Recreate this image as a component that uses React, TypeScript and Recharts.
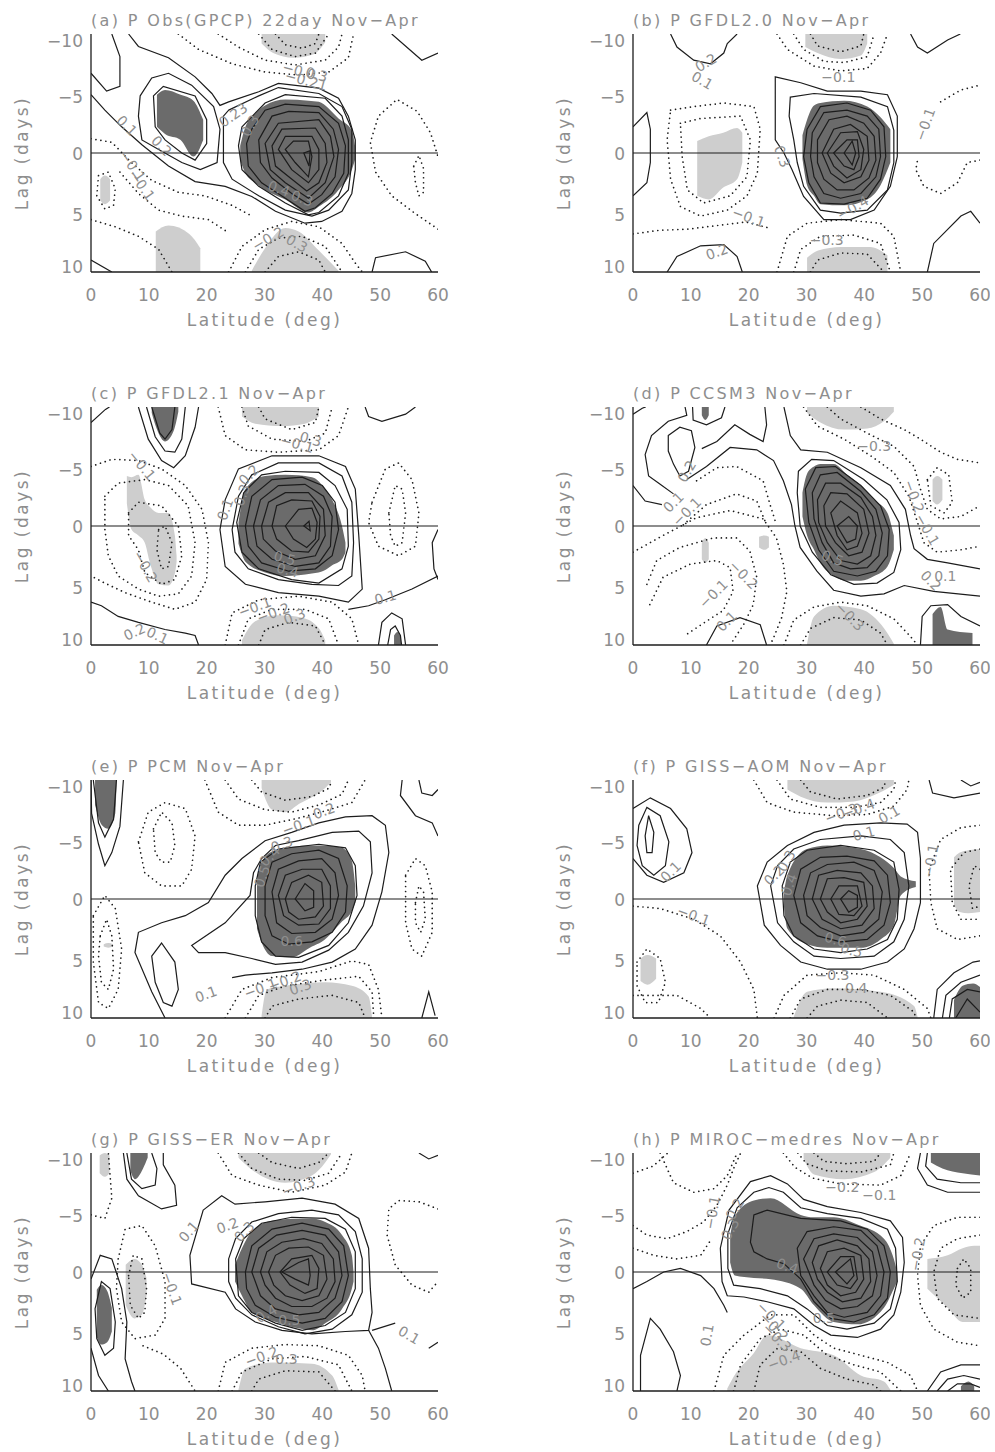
import React from 'react';
import { ComposedChart, Area, Line, XAxis, YAxis, ReferenceLine, ReferenceDot } from 'recharts';

type Pt = [number, number];
type Band = [number, number, number]; // latitude, upper lag, lower lag
type Lbl = [number, number, string, number]; // latitude, lag, text, angle

const latTicks = [0, 10, 20, 30, 40, 50, 60];
const lagTicks = [-10, -5, 0, 5, 10];
const titles = [
  '(a) P Obs(GPCP) 22day Nov−Apr',
  '(b) P GFDL2.0 Nov−Apr',
  '(c) P GFDL2.1 Nov−Apr',
  '(d) P CCSM3 Nov−Apr',
  '(e) P PCM Nov−Apr',
  '(f) P GISS−AOM Nov−Apr',
  '(g) P GISS−ER Nov−Apr',
  '(h) P MIROC−medres Nov−Apr',
];

// ---------- (a) ----------
const aDark: Band[][] = [
  [[11.4, -4.9, -2.2], [12.8, -5.3, -1.6], [15.5, -4.9, -1.1], [17.7, -4.4, 0.3], [19.4, -2.8, -1.1]],
  [[25.8, -0.6, 0.6], [26.7, -2.2, 1.7], [28.4, -3.3, 2.5], [30.1, -4.0, 3.1], [33.6, -4.5, 3.9], [37.6, -4.4, 5.0], [39.4, -4.3, 4.5], [42.8, -2.9, 3.1], [45.1, -1.9, 1.4], [45.7, -0.5, 0.5]],
];
const aLight: Band[][] = [
  [[29.5, -10, -9.2], [31.5, -10, -8.4], [35, -10, -8.0], [38.5, -10, -8.3], [40.5, -10, -9.3]],
  [[1.6, 2.2, 4.0], [2.4, 1.9, 4.3], [3.3, 2.2, 4.0]],
  [[11.2, 6.6, 10], [13.4, 6.1, 10], [17.0, 6.8, 10], [18.9, 8.0, 10]],
  [[27.8, 9.9, 10], [30.1, 8.0, 10], [33.6, 6.3, 10], [35.9, 6.6, 10], [39.4, 8.2, 10], [42.8, 9.9, 10]],
];
const aLoops: Pt[][] = [
  [[8.5, -4.8], [10.5, -6.3], [13.4, -6.7], [17.4, -5.7], [21.2, -3.9], [22.3, -2.0], [21.8, 0.8], [18.9, 1.4], [15.7, 0.8], [11.7, -0.3], [8.8, -1.1], [8.2, -3.1]],
  [[10.8, -4.8], [12.5, -5.6], [18, -4.8], [20, -2.8], [20, -0.8], [18, 0.6], [15.7, 0], [12.8, -1.1], [11.1, -2.2]],
  [[23.8, -3.6], [29, -4.8], [32.4, -5.5], [39.4, -5], [43.4, -3.9], [45.1, -2], [45.1, 0.8], [44.5, 3.1], [41.1, 4.8], [38.2, 5.3], [33.6, 4.8], [29, 3.6], [24.4, 2.2], [22.9, 0.8], [22.9, -3.1]],
  [[26.1, -2.2], [30.1, -4.2], [33.6, -4.9], [40.5, -4.6], [43.4, -3.1], [44.5, -1.1], [44.5, 1.7], [42.8, 3.6], [39.4, 5], [37.6, 5.2], [33.6, 4.2], [29, 2.8], [26.1, 1.4], [25.5, -0.6]],
  [[27.8, -2], [30.1, -3.6], [33.6, -4.1], [39.4, -3.9], [42.8, -2.5], [44, -0.6], [43.7, 1.7], [41.7, 3.4], [38.8, 4.6], [37, 4.9], [33.6, 3.8], [29.5, 2.5], [27.2, 1.1], [26.9, -0.8]],
  [[29, -1.1], [31.3, -3.1], [34.2, -3.5], [39.4, -3.4], [41.9, -2], [42.8, -0.3], [42.2, 2], [39.9, 3.5], [37.6, 4.3], [34.7, 3.4], [31.3, 2.1], [29.3, 0.8]],
  [[30.1, -0.8], [32.4, -2.5], [39.4, -2.8], [41.4, -1.4], [42, 0.3], [40.5, 2.5], [37.6, 3.8], [33.6, 2.5], [31, 1.4]],
  [[31.3, -0.6], [33, -2], [38.8, -2.1], [40.5, -0.8], [40.8, 0.8], [39.4, 2.5], [37.3, 3.2], [34.2, 2], [31.9, 1.1]],
  [[32.4, -0.3], [33.6, -1.4], [38.2, -1.4], [39.4, -0.3], [39.4, 1.4], [37.6, 2.5], [34.7, 1.4]],
  [[33.6, -0.3], [35, -1], [37.6, -1], [38.2, 0.3], [37.6, 2], [35.3, 0.8]],
  [[36.8, 0], [37.9, -0.2], [37.7, 1.1]],
];
const aLines: Pt[][] = [
  [[0, -4.9], [2.4, -3.6], [5.3, -2.2], [8.8, -0.7], [13.4, 1.1], [18, 2.4], [23.2, 2.8], [27.8, 3.65], [31.9, 4.9], [37, 5.9], [39.9, 5.75], [43.4, 4.9], [45.1, 3.4], [45.7, 1.4], [45.7, -1.1], [44.5, -3.1], [42.8, -4.6], [39.4, -5.45], [32.4, -5.85], [29, -5.15], [23.8, -4.3], [22.3, -4.0], [20.9, -5.0], [18, -6.4], [13.4, -8], [8.2, -8.95], [6.5, -10]],
  [[3.6, -10], [5.0, -8.1], [5.0, -5.6], [2.7, -5.2], [0, -6.7]],
  [[52, -10], [57.2, -7.8], [60, -8.4]],
  [[48.6, 10], [49.2, 8.8], [54.4, 8.3], [57.8, 9.1], [58.9, 10]],
  [[0, 9.0], [3.6, 10]],
];
const aDotLoops: Pt[][] = [
  [[55.8, 1.1], [56.7, 0.2], [57.5, 1.3], [57.5, 3.3], [56.7, 3.6], [56.1, 2.5]],
  [[1.3, 1.9], [3.0, 1.6], [4.2, 3.0], [3.9, 4.4], [2.4, 4.7], [1.0, 3.6]],
];
const aDotLines: Pt[][] = [
  [[15.1, -10], [18.6, -8.7], [24.4, -7.5], [30.1, -6.8], [35.9, -6.55], [41.1, -6.8], [44.5, -8], [45.4, -10]],
  [[22, -10], [25.5, -8.9], [30.1, -7.8], [35.3, -7.4], [40.5, -7.8], [42.8, -8.9], [43.4, -10]],
  [[29, -10], [31.3, -8.7], [35.3, -8.1], [38.8, -8.4], [41.1, -10]],
  [[31.9, -10], [33.6, -9.1], [36.5, -8.8], [38.8, -9.2], [39.4, -10]],
  [[60, 6.4], [56.1, 5.1], [52, 3.6], [49.2, 1.6], [48.3, -0.9], [49.7, -3.1], [52.9, -4.5], [56.4, -3.5], [58.7, -1.7], [60, 0.3]],
  [[0, -1.2], [3.6, -0.9], [7, 0.8], [10.5, 2.3], [15.1, 3.3], [19.7, 3.6], [24.4, 4.4], [27.8, 5.3]],
  [[5, 1.6], [8.2, 3.4], [11.7, 4.8], [15.7, 5.3], [20.3, 5.6], [23.8, 6.7]],
  [[23.8, 10], [26.1, 7.85], [30.1, 6.45], [34.7, 5.75], [39.4, 6.2], [43.4, 7.6], [45.7, 9.25], [46.9, 10]],
  [[26.7, 10], [29, 8.1], [32.4, 7.15], [36.5, 7], [40.5, 7.85], [43.4, 10]],
  [[30.1, 10], [32.4, 8.7], [35.9, 8.3], [39.4, 9], [40.5, 10]],
  [[0, 5.6], [4.2, 6.2], [8.2, 7], [11.7, 8.1], [14, 10]],
];
const aLabels: Lbl[] = [
  [6.2, -2.3, '0.1', 45], [12.2, -0.6, '0.2', 45], [7.2, 1.1, '−0.1', 55], [8.8, 2.7, '−0.1', 55],
  [24.6, -3.2, '0.23', -35], [27.5, -2.3, '0.3', -60], [32.5, 3.0, '0.4', 20], [36.5, 3.8, '0.3', 20],
  [30.6, 7.2, '−0.2', -30], [35.6, 7.6, '0.3', 30], [36.0, -6.9, '−0.0', 15], [39.0, -6.6, '0.3', 15], [37.2, -6.1, '−0.21', 15],
];

// ---------- (b) ----------
const bDark: Band[][] = [
  [[29.3, -1.5, 0.5], [30.1, -2.8, 2.7], [31.3, -4.0, 3.6], [32.4, -4.2, 4.3], [36.5, -4.4, 4.4], [40.5, -3.9, 3.9], [42.8, -3.0, 2.7], [44.5, -2.0, 0.8]],
];
const bLight: Band[][] = [
  [[11.1, -1.0, 3.6], [13.1, -1.4, 3.9], [15.6, -1.7, 2.9], [18.0, -2.1, 2.2], [18.9, -1.7, 0.8]],
  [[29.8, -10, -8.9], [31.9, -10, -8.4], [35.9, -10, -7.9], [39.4, -10, -8.2], [40.5, -10, -9.2]],
  [[30.1, 8.8, 10], [32, 8.2, 10], [36, 7.9, 10], [41, 7.9, 10], [44, 8.6, 10]],
];
const bLoops: Pt[][] = [
  [[24.6, -6.4], [29, -5.9], [33.6, -5.2], [39.4, -5.2], [44, -4.9], [45.7, -3.1], [45.7, 0.3], [44.5, 2.8], [41.7, 4.8], [37.6, 5.6], [33, 5.6], [29.5, 3.65], [27.5, 1.4], [26.1, 0], [24.6, -1.1]],
  [[27.2, -4.7], [31.3, -5], [39.4, -4.7], [44, -3.9], [45.1, -1.9], [45.1, 0.8], [44, 3.1], [40.5, 4.8], [35.9, 5.05], [32.4, 4.8], [29.5, 2.8], [28.4, 0.8], [27.8, -1.1], [27, -3.1]],
  [[30.1, -2], [32.4, -3.9], [37, -4.2], [41.1, -3.6], [43.4, -2.2], [43.7, 0.3], [42.8, 2.2], [40.5, 3.8], [36.5, 4.3], [32.4, 4.2], [30.4, 2.5], [29.5, 0.3]],
  [[31, -1.7], [33, -3.4], [37, -3.6], [40.5, -3.1], [42.5, -2], [42.8, 0.3], [42, 2], [39.4, 3.4], [35.9, 3.8], [33, 3.4], [31.3, 2], [30.7, 0.3]],
  [[31.9, -1.1], [33.9, -2.8], [37, -3.1], [39.9, -2.5], [41.7, -1.4], [42, 0.6], [40.8, 2.1], [38.2, 3.1], [35.3, 3.1], [33, 2.2], [31.9, 0.8]],
  [[32.7, 0], [34.7, -2], [37.6, -2.4], [40.5, -1.4], [40.8, 0.6], [39.4, 2], [36.5, 2.5], [34.2, 1.7]],
  [[33.6, 0], [35.9, -1.7], [38.8, -1.8], [39.9, -0.3], [39.4, 1.4], [37, 2.1], [34.7, 1.1]],
  [[34.7, 0], [37, -1.1], [38.8, -1.1], [39.1, 0.3], [38.2, 1.4], [36.5, 1.1]],
  [[36.5, 0], [37.9, -1], [38.5, 0], [37.9, 1]],
];
const bLines: Pt[][] = [
  [[6.5, -10], [7.6, -8.9], [10.5, -7.8], [13.4, -7.5], [15.7, -8.4], [16.3, -9.2], [18, -10]],
  [[48, -10], [49.2, -8.9], [50.9, -8.4], [54.4, -9.5], [56.6, -10]],
  [[0, -2.2], [2.4, -3.4], [3, -2], [3, 0.8], [2.4, 2.5], [0, 3.6]],
  [[50.9, 10], [52, 7.6], [56.7, 5.3], [58.4, 4.9], [60, 5.9]],
  [[5.9, 10], [7.6, 8.7], [11.7, 7.8], [15.7, 7.7], [18, 8.7], [18.9, 10]],
];
const bDotLoops: Pt[][] = [
  [[6.5, -3.6], [10.5, -3.9], [15.7, -4.2], [20.9, -3.9], [22, -2], [21.5, 1.7], [19.7, 3.6], [16.3, 4.8], [11.7, 5.3], [8.2, 4.5], [6.5, 2.2], [5.9, -1.1]],
  [[8.2, -2.5], [11.7, -2.9], [18.6, -3.1], [20.3, -1.1], [19.7, 2], [16.8, 3.6], [12.2, 4.2], [9.4, 3.1], [8.5, 0.3]],
];
const bDotLines: Pt[][] = [
  [[24.9, -10], [26.7, -8.7], [31.3, -7.3], [35.9, -6.9], [40.5, -7.1], [42.8, -8.4], [44, -10]],
  [[27.8, -10], [29.5, -8.7], [33, -7.7], [36.5, -7.6], [40.5, -8.1], [41.7, -10]],
  [[30.7, -10], [31.9, -9], [35.9, -8.5], [39.4, -9], [39.9, -10]],
  [[24.9, 10], [26.7, 7], [30.1, 5.9], [35.9, 5.6], [42.8, 5.9], [45.1, 7], [46.3, 10]],
  [[27.8, 10], [29, 8.1], [32.4, 7], [38.2, 6.9], [42.8, 7.6], [44.5, 10]],
  [[30.7, 10], [31.9, 9], [35.9, 8.4], [40.5, 8.5], [43.4, 10]],
  [[60, 0.6], [57.8, 0.8], [56.1, 2.5], [53.2, 3.4], [50.3, 2.8], [48.9, 1.4], [49.2, 0.6]],
  [[53.2, -4.3], [56.7, -5.3], [60, -5.7]],
  [[0, 6.8], [4.5, 6.5], [9.5, 6.4], [14.5, 6.1], [19.5, 5.8], [23.5, 6.3]],
];
const bLabels: Lbl[] = [
  [12.6, -7.6, '0.2', -30], [12, -6.1, '0.1', 30], [35.5, -6.4, '−0.1', 0], [50.5, -2.4, '−0.1', -70],
  [20, 5.4, '−0.1', 20], [14.5, 8.3, '0.2', -20], [33.5, 7.3, '−0.3', 0], [38, 4.6, '−0.4', -30], [25.8, 0.3, '0.3', 70],
];

// ---------- (c) ----------
const cDark: Band[][] = [
  [[25.5, -0.3, 1.5], [26.7, -3.1, 3.0], [30.1, -4.2, 3.9], [33.6, -4.3, 4.2], [38.2, -4.1, 4.0], [40.5, -3.1, 3.7], [41.7, -2.2, 3.3], [43.4, 0, 2.8], [44, 1.4, 2.2]],
  [[10.5, -10, -9.5], [11.5, -10, -8.0], [12.8, -10, -7.1], [14.3, -10, -8.0], [15.1, -10, -9.6]],
  [[52.4, 9.2, 10], [53.0, 8.9, 10], [53.6, 9.4, 10]],
];
const cLight: Band[][] = [
  [[6.2, -4.2, -1.9], [7.0, -4.1, 0.3], [8.2, -4.3, 0.8], [9.3, -2.2, 1.4], [10.2, -1.6, 3.1], [11.7, -1.1, 4.9], [13.4, -1.1, 5.0], [14.5, 0.8, 4.0], [14.8, 2.5, 3.0]],
  [[26.1, -10, -9.2], [28.4, -10, -8.6], [33, -10, -8.4], [37, -10, -8.6], [39.4, -10, -9.2]],
  [[26.1, 9.6, 10], [28.4, 8.0, 10], [32.4, 7.5, 10], [36.5, 7.7, 10], [39.4, 8.6, 10], [40.5, 9.6, 10]],
];
const cLoops: Pt[][] = [
  [[22.3, 0.3], [23.2, -2.2], [25.5, -4.8], [31.3, -5.9], [39.4, -5.9], [44, -5], [45.7, -3.1], [46.3, 0.8], [46.9, 5.3], [44.5, 6.4], [39.4, 5.9], [32.4, 5.6], [26.7, 4.9], [23.2, 3.4]],
  [[24.4, 0.3], [25.5, -2.5], [27.8, -4.3], [32.4, -5.3], [39.4, -5.3], [43.4, -4.2], [45.1, -2], [45.4, 1.4], [45.1, 4.2], [42.8, 5], [38.2, 4.9], [32.4, 4.5], [27.2, 3.6], [24.9, 2.2]],
  [[25.2, -0.3], [26.4, -2.8], [29.5, -4.3], [33.6, -4.6], [39.4, -4.5], [42.2, -3.4], [44.3, -1.4], [44.5, 1.7], [43.4, 3.6], [39.4, 4.8], [34.7, 4.5], [29, 3.6], [26.1, 2.2]],
  [[26.7, 0], [27.8, -2.5], [31.3, -3.9], [36.5, -4.1], [40, -3.4], [42.2, -2], [42.8, 0.3], [41.7, 2.5], [38.8, 3.6], [34.2, 3.8], [29.5, 3.1], [27.2, 1.7]],
  [[28.1, 0], [29.3, -2.2], [32.4, -3.4], [37, -3.5], [40.2, -2.5], [41.7, -0.8], [41.4, 1.7], [39.4, 3.1], [35.3, 3.4], [31.3, 2.8], [28.7, 1.7]],
  [[29.5, 0], [30.7, -2], [33.6, -2.8], [37.6, -2.8], [40.2, -1.4], [40.5, 0.8], [38.8, 2.5], [35.3, 2.8], [31.9, 2.1], [29.8, 1.1]],
  [[31.3, 0], [32.1, -1.7], [34.7, -2.2], [38.2, -2.1], [39.6, -0.8], [39.4, 1.1], [37.6, 2.2], [34.7, 2.1], [32.1, 1.1]],
  [[33.6, 0], [35.9, -1.4], [38.2, -1.5], [39.1, -0.3], [38.8, 1.1], [37.3, 1.8], [35, 1.1]],
  [[36.8, 0], [37.7, -0.4], [37.9, 0.4]],
];
const cLines: Pt[][] = [
  [[44.5, 7], [48, 6.7], [50.9, 6.2], [55.5, 5.3], [60, 4.2]],
  [[8.2, -10], [9.9, -7.3], [12.2, -5.5], [14.3, -4.9], [16.3, -5.9], [18, -8.3], [18.6, -10]],
  [[9.6, -10], [11.1, -7.5], [12.8, -6.3], [14.5, -6.2], [15.7, -7.3], [16.3, -10]],
  [[10.5, -10], [11.9, -7.8], [12.8, -7.3], [14, -8.1], [14.5, -10]],
  [[47.4, -10], [48, -9.2], [50.3, -8.8], [54.4, -9.4], [56.1, -10]],
  [[60, 0.3], [59, 1.4], [59.3, 3.6], [60, 4.5]],
  [[49.7, 10], [50.3, 8.1], [52, 7.3], [53.8, 7.8], [54.4, 10]],
  [[51.3, 10], [51.8, 8.7], [52.6, 8.4], [53.5, 9.2], [53.7, 10]],
  [[0, 6.4], [1.8, 6.7], [4.7, 7.6], [8.2, 8.1], [12.8, 8.7], [16.3, 9], [18, 9.2], [18.6, 10]],
  [[0, -8.7], [2.5, -9.8], [3.2, -10]],
];
const cDotLoops: Pt[][] = [
  [[2.4, -2.5], [4.7, -3.6], [9.3, -3.9], [13.4, -3.4], [16.8, -1.7], [18, 1.4], [17.4, 4.2], [15.1, 5.7], [11.7, 5.9], [8.2, 5.3], [4.7, 4.2], [3, 2.5], [2.4, 0.3]],
  [[6.5, -1.1], [8.2, -2], [12.2, -1.7], [15.1, 0], [15.7, 2.5], [14.5, 4.5], [12.2, 4.9], [9.3, 3.9], [8.2, 2], [6.5, 0.8]],
  [[11.7, 0.3], [12.8, 0], [14, 1.4], [13.4, 3.4], [12.2, 3.6], [11.4, 2]],
  [[48.6, -2], [50.9, -4.8], [53.2, -5.3], [55.5, -3.9], [56.7, -1.1], [56.1, 1.7], [53.2, 2.5], [49.7, 1.7], [48, -0.3]],
  [[51.5, -1.1], [52.6, -3.4], [53.8, -3.1], [54.4, -1.1], [53.8, 1.4], [52.6, 1.7], [51.8, 0.8]],
];
const cDotLines: Pt[][] = [
  [[0, -5], [3.6, -5.6], [8.2, -5.5], [12.2, -4.8], [16.3, -3.4], [19.2, -1.4], [20.3, 1.4], [20, 4.5], [18, 6.4], [14.5, 7], [10.5, 6.4], [5.9, 5.6], [2.4, 4.8], [0, 4.2]],
  [[22, -10], [23.2, -7.6], [26.7, -6.4], [32.4, -6.2], [39.4, -6.4], [42.8, -7.6], [44.5, -10]],
  [[26.1, -10], [27.2, -8.4], [31.3, -7.3], [37, -7.1], [40.5, -7.8], [41.7, -10]],
  [[29, -10], [30.1, -9], [34.7, -8.1], [38.8, -8.7], [39.4, -10]],
  [[23.2, 10], [24.4, 7.3], [29, 6.2], [35.9, 5.9], [41.7, 6.4], [45.1, 7.8], [46.3, 10]],
  [[25.5, 10], [27.2, 7.8], [31.3, 7], [37, 7], [41.1, 7.8], [42.8, 10]],
  [[29, 10], [30.1, 8.7], [34.2, 8.1], [38.8, 8.4], [40.5, 10]],
];
const cLabels: Lbl[] = [
  [8.8, -5.1, '−0.1', 50], [9.4, 3.4, '−0.2', 60], [23.2, -1.4, '0.1', -70], [27.3, -4.3, '0.2', -45], [26.1, -2.6, '0.3', -70],
  [33.5, 2.7, '0.5', 15], [34, 3.7, '0.4', 15], [50.9, 6.0, '0.1', -15], [28.3, 6.8, '−0.1', -20], [31.5, 7.3, '−0.2', -20],
  [35.2, 7.6, '0.3', -20], [35.6, -6.9, '−0.1', 15], [38, -7.3, '0.3', 15], [7.5, 8.9, '0.2', -25], [11.5, 9.2, '0.1', 25],
];

// ---------- (d) ----------
const dDark: Band[][] = [
  [[29.3, -2.8, -0.8], [30.1, -4.4, 0.8], [31.3, -5.0, 2.0], [32.4, -5.2, 3.1], [34.7, -5.2, 4.2], [37, -4.3, 4.6], [39.4, -3.4, 4.6], [41.7, -2.2, 4.2], [44, -1.1, 3.4], [45.1, 0.8, 2.0]],
  [[11.9, -10, -9.3], [12.5, -10, -8.9], [13.1, -10, -9.3]],
  [[51.8, 7.4, 10], [53.2, 6.8, 10], [54.4, 8.7, 10], [58.7, 9.0, 10]],
];
const dLight: Band[][] = [
  [[30.1, -10, -9.5], [32.4, -10, -8.7], [36.5, -10, -8.1], [40.5, -10, -8.2], [43.4, -10, -8.8], [45.1, -10, -9.6]],
  [[51.8, -3.9, -2.1], [52.6, -4.2, -1.8], [53.5, -3.9, -2.2]],
  [[11.9, 1.4, 2.8], [12.5, 1.0, 3.1], [13.1, 1.4, 2.8]],
  [[21.8, 0.9, 1.8], [22.7, 0.8, 2.0], [23.5, 0.9, 1.8]],
  [[30.1, 9.9, 10], [31.3, 7.6, 10], [34.7, 6.7, 10], [39.4, 7.0, 10], [43.4, 8.6, 10], [45.1, 9.9, 10]],
];
const dLoops: Pt[][] = [
  [[28.6, -4.6], [30.9, -5.6], [34.7, -5.5], [39.9, -3.9], [43.9, -2.2], [46, -0.3], [46.3, 2], [45.1, 3.9], [42.2, 4.8], [38.2, 4.9], [34.2, 4.1], [31, 2.2], [28.9, 0], [28.4, -2.8]],
  [[29.8, -3.1], [31.6, -4.9], [35, -5], [39.4, -3.4], [42.8, -1.7], [44.3, 0.3], [44, 2.5], [42, 3.8], [38.8, 4.2], [34.7, 3.8], [32.1, 2], [30.4, -0.3]],
  [[31, -2.8], [32.4, -4.3], [35.3, -4.5], [39.4, -2.9], [42, -1.4], [43.1, 0.6], [42.5, 2.5], [40.5, 3.5], [37.6, 3.6], [34.7, 3.1], [32.7, 1.4], [31.3, -0.6]],
  [[31.9, -2.2], [33.3, -3.6], [35.9, -3.6], [39.4, -2.4], [41.4, -0.8], [42, 0.8], [41.1, 2.5], [38.8, 3.2], [35.9, 2.9], [33.6, 1.4], [32.1, -0.3]],
  [[33, -1.7], [34.2, -2.8], [37, -2.7], [39.9, -1.4], [40.8, 0.6], [39.6, 2.2], [37.3, 2.5], [35, 1.4], [33.3, 0]],
  [[34.2, -1.1], [35.9, -2.1], [38.8, -1.1], [39.6, 0.6], [38.8, 1.7], [37, 2], [35.3, 0.8]],
  [[35.3, 0], [37.3, -0.8], [38.8, 0], [38.5, 1.1], [37, 1.4]],
  [[6.1, -7.6], [8.1, -8.3], [10.1, -8.0], [10.7, -6.6], [9.6, -4.6], [8.1, -4.2], [7.0, -5.2], [6.1, -6.3]],
];
const dLines: Pt[][] = [
  [[0, -3.4], [2.1, -2.1], [5.0, -1.8]],
  [[7.0, -2.7], [4.7, -3.5], [2.7, -4.2], [2.1, -6.0], [3.2, -7.6], [6.1, -8.8], [9.3, -9.3], [9.0, -10]],
  [[10.3, -10], [10.4, -8.9], [12.7, -8.5], [15.3, -9.1], [15.9, -10]],
  [[11.9, -6.5], [14.5, -7.1], [17.6, -8.5], [20.2, -7.7], [22.5, -7.1], [23.1, -8.5], [22.8, -10]],
  [[9.3, -3.9], [12.7, -5.0], [16.8, -6.6], [21.4, -6.4], [24.3, -5.5], [26, -3.8], [27.4, -1.8], [28, 0], [28.9, 1.8], [31.8, 3.8], [34.7, 5.4], [39.4, 5.9], [43.4, 5.7], [46.9, 5], [52, 5.5], [60, 5.9]],
  [[26.1, -10], [27.2, -7.6], [29, -6.4], [33.6, -6.2], [39.4, -4.9], [44.5, -3.4], [47.1, -1.4], [48, 0.8], [48.6, 1.9], [50.9, 2.8], [54.4, 3.1], [60, 3.6]],
  [[49.7, 10], [50, 7.6], [51.5, 6.7], [54.4, 6.6], [56.7, 7.6], [60, 8.4]],
  [[12.7, 10], [14.5, 8.4], [18.5, 7.7], [22, 8.3], [23.1, 10]],
  [[0, -9.4], [1.6, -9.9], [2.2, -10]],
];
const dDotLoops: Pt[][] = [
  [[50.9, -3.9], [52.6, -4.9], [54.6, -4.3], [55.2, -2], [53.8, -1.1], [51.5, -1.7]],
];
const dDotLines: Pt[][] = [
  [[29.5, -10], [31.9, -8.4], [36.5, -7.3], [41.1, -5.9], [45.1, -4.5], [47.7, -2.5], [49.2, -0.3], [50.3, 1.4], [52.6, 2.2], [56.7, 2], [60, 1.7]],
  [[33.6, -10], [35.9, -9], [40.5, -7.8], [45.1, -6.7], [48.6, -5], [49.7, -3.1], [50.9, -1.4], [53.2, -0.6], [56.7, -0.8], [60, -1.7]],
  [[39.4, -10], [42.8, -9], [46.9, -8.1], [49.7, -7.3], [53.2, -6.2], [56.1, -5.6], [60, -5.3]],
  [[26.1, 10], [27.8, 7.9], [31.3, 6.8], [35.9, 6.4], [40.5, 6.7], [45.1, 7.8], [48, 9.3], [49.2, 10]],
  [[29, 10], [30.7, 8.6], [34.7, 7.7], [39.4, 7.9], [42.8, 9], [44, 10]],
  [[0, 2.2], [5.2, 0.8], [11, -0.7], [16.8, -1.3], [22.5, -0.6], [24.8, 1.0], [26, 3.2], [26.6, 5.5], [25.7, 7.7], [24.3, 9.4], [23.7, 10]],
  [[2.4, 4.9], [4.1, 2.9], [8.1, 1.8], [13.9, 1.0], [17.9, 1.0], [20.2, 2.1], [21.4, 4.3], [20.8, 6.6], [19.1, 8.3], [16.8, 10]],
  [[2.9, 6.6], [5.2, 4.3], [9.9, 3.2], [14.5, 2.9], [16.8, 3.5], [17.3, 5.5], [15.6, 7.1], [12.7, 8.0], [9.3, 9.1]],
  [[11, -3.8], [14.5, -4.9], [17.9, -5.0], [22.5, -3.8], [23.7, -1.8], [24.8, -0.1]],
  [[8.7, -0.1], [12.7, -1.8], [17.9, -2.7], [21.4, -2.1], [23.1, -0.1]],
];
const dLabels: Lbl[] = [
  [9.3, -4.6, '0.2', -60], [7, -2.0, '0.1', -45], [9.3, -1.2, '−0.1', -45], [19.1, 4.1, '−0.2', 45], [13.9, 5.7, '−0.1', -45],
  [16.2, 8.0, '0.1', -45], [41.7, -6.7, '−0.3', 0], [48.6, -2.5, '−0.2', 70], [50.9, 0.3, '−0.1', 60], [51.5, 4.6, '0.2', 45],
  [54, 4.2, '0.1', 0], [37.5, 7.6, '−0.3', 45], [34.5, 2.7, '0.5', 20],
];

// ---------- (e) ----------
const eDark: Band[][] = [
  [[28.7, -1.5, 2.5], [29.3, -2.9, 3.4], [31.3, -4.0, 4.8], [34.7, -4.4, 4.9], [38.2, -4.5, 4.0], [39.9, -4.5, 3.6], [43.4, -4.3, 1.9], [45.1, -3.2, 1.0], [45.7, -1.1, 0.3]],
  [[0.7, -10, -7.9], [1.9, -10, -6.2], [3.0, -10, -5.9], [4.2, -10, -7.2], [4.4, -10, -9.5]],
];
const eLight: Band[][] = [
  [[29.5, -10, -9.3], [31.3, -10, -7.5], [33.6, -10, -7.3], [36, -10, -8.0], [39.4, -10, -8.9], [41.5, -10, -9.8]],
  [[29.5, 9.8, 10], [30.4, 7.6, 10], [33.6, 7.3, 10], [40.5, 7.0, 10], [45.1, 7.3, 10], [48.0, 8.2, 10], [48.6, 9.9, 10]],
  [[2.2, 3.8, 4.0], [3.0, 3.7, 4.1], [3.8, 3.8, 4.0]],
];
const eLoops: Pt[][] = [
  [[10.5, 4.8], [12.2, 3.7], [14.5, 5.3], [15.1, 7.6], [14, 9], [12.5, 8.7], [11.1, 7]],
  [[17.4, 3.9], [23.2, 2], [27.5, -0.3], [28.1, -2.2], [29.5, -3.4], [31.9, -4.5], [35.9, -4.9], [41.7, -5.6], [46.3, -5.7], [48.3, -4.8], [48.6, -2.2], [47.1, 0.6], [44.5, 2.8], [41.1, 4.3], [36.5, 5.3], [31.9, 5.5], [27.8, 5], [23.2, 4.5], [18.6, 4.5]],
  [[28.4, -1.1], [29.3, -3.1], [32.4, -4.2], [39.4, -4.6], [44, -4.3], [45.7, -2.8], [46, -0.3], [44.5, 2], [41.1, 3.9], [35.9, 4.9], [31.9, 4.8], [29.5, 3.6], [28.4, 1.4]],
  [[30.1, -1.1], [31.3, -3.1], [34.7, -3.8], [39.4, -4.1], [42.8, -3.4], [44.3, -1.1], [44, 1.1], [41.7, 2.8], [38.2, 3.6], [34.2, 3.8], [31.3, 3.1], [30.1, 1.4]],
  [[31.3, -0.6], [32.4, -2.5], [35.9, -3.2], [39.9, -3.4], [42.2, -2.2], [42.8, -0.3], [41.7, 1.7], [38.8, 2.8], [34.7, 2.9], [32.1, 2]],
  [[32.4, -0.3], [33.6, -2], [36.5, -2.5], [39.9, -2.5], [41.4, -1.1], [41.4, 0.8], [39.4, 2.1], [35.9, 2.2], [33.3, 1.4]],
  [[33.6, 0], [34.7, -1.4], [37.6, -2], [39.9, -1.4], [40.2, 0.6], [38.8, 1.5], [35.9, 1.7], [34.2, 1.1]],
  [[35.3, 0], [37, -1.3], [38.5, -0.7], [38.5, 0.7], [37, 1]],
];
const eLines: Pt[][] = [
  [[12.8, 10], [10.5, 7.8], [7.6, 4.5], [8.2, 2.8], [12.2, 2], [16.3, 1.4], [20.3, 0.3], [23.2, -2], [26.1, -3.4], [30.1, -4.9], [34.7, -5.6], [39.4, -6.4], [44, -6.9], [48.6, -7], [50.9, -6.2], [51.5, -3.9], [50.3, -0.6], [48.6, 2.2], [45.7, 4.2], [41.7, 5.3], [36.5, 5.9], [31.3, 6.2], [26.7, 6.4], [24.4, 6.6]],
  [[0, -10], [0.1, -7.2], [1.3, -4.6], [2.4, -2.8], [3.6, -3.9], [5, -6.1], [5.6, -10]],
  [[0.4, -10], [1.3, -6.4], [2.4, -5.2], [3.9, -6.7], [4.4, -10]],
  [[53.8, -10], [53.5, -8.7], [56.1, -7], [59, -6.4], [60, -5.3]],
  [[56.7, -10], [57.2, -8.9], [59, -8.7], [60, -9.2]],
  [[57.2, 10], [58.4, 7.8], [59.5, 9.8]],
];
const eDotLoops: Pt[][] = [
  [[8.2, -4.8], [9.9, -7.3], [12.8, -8.1], [16.3, -7.6], [18, -5.3], [17.4, -2.5], [15.7, -1.1], [12.2, -1.1], [9.3, -2.2]],
  [[10.8, -5.9], [12.2, -7.3], [14, -6.4], [14.5, -4.5], [13.7, -3.1], [12.2, -3.1], [11.1, -3.9]],
  [[54.4, -2], [56.1, -3.4], [57.8, -2.8], [59, -0.6], [59, 2.8], [57.2, 4.8], [55.5, 4.2], [54.4, 2]],
  [[56.1, 0.3], [56.7, -1.1], [57.5, -0.6], [57.8, 1.7], [57, 2.8], [56.1, 2]],
  [[0.4, 1.4], [2.4, -0.3], [4.2, 0.8], [5.3, 4.2], [4.7, 7.6], [3, 9.2], [1.3, 8.7], [0.4, 5.3]],
  [[1.6, 3.1], [2.7, 1.7], [3.6, 3.1], [3.9, 5.9], [3, 7.6], [1.8, 7], [1.3, 4.8]],
];
const eDotLines: Pt[][] = [
  [[19.7, -10], [22, -7.3], [25.5, -6.2], [30.1, -6.2], [35.9, -6.8], [40.5, -7.4], [45.1, -8.1], [47.4, -10]],
  [[23.2, -10], [25.5, -8.4], [30.1, -7.5], [34.7, -7.3], [39.4, -7.9], [43.4, -8.8], [44.5, -10]],
  [[27.8, -10], [29.5, -9], [33.6, -8.3], [38.2, -8.6], [41.1, -9.3], [41.7, -10]],
  [[23.2, 10], [26.1, 7.6], [31.3, 6.6], [39.4, 6.1], [45.1, 5.2], [48, 5.5], [49.7, 7.6], [50.3, 10]],
  [[26.7, 10], [29, 8.1], [33.6, 7.3], [40.5, 6.8], [46.3, 6.5], [48.6, 7.8], [48.9, 10]],
  [[30.1, 10], [31.3, 9], [35.9, 8.4], [41.7, 8.1], [46.3, 8.7], [47.4, 10]],
];
const eLabels: Lbl[] = [
  [33, -4.6, '0.3', -20], [30.9, -3.6, '0.4', -45], [29.6, -1.9, '0.5', -70], [34.7, 3.5, '0.6', 0], [19.9, 8.0, '0.1', -20],
  [29.3, 7.5, '−0.1', -20], [33.5, 6.9, '−0.2', -20], [36.2, 7.4, '0.3', -20], [35.9, -6.2, '−0.1', -20], [40.3, -7.4, '0.2', -20],
];

// ---------- (f) ----------
const fDark: Band[][] = [
  [[26.1, -0.6, 0.6], [26.7, -2.0, 2.5], [30.1, -4.2, 3.8], [33.6, -4.5, 4.1], [39.4, -4.2, 4.1], [42.8, -3.5, 3.4], [45.1, -2.6, 2.2], [46.3, -1.9, -0.3], [48.9, -1.5, -1.0]],
  [[55.5, 8.5, 10], [57, 7.3, 10], [58.8, 7.1, 10], [60, 7.4, 10]],
];
const fLight: Band[][] = [
  [[26.7, -10, -9.2], [29, -10, -8.6], [33.6, -10, -8.1], [38.2, -10, -8.2], [42.5, -10, -8.9], [45.1, -10, -9.6]],
  [[27.8, 9.9, 10], [30.1, 7.8, 10], [34.7, 7.5, 10], [42.8, 7.8, 10], [48.6, 9.0, 10], [49.2, 9.9, 10]],
  [[55.5, -3.5, 0.5], [56.5, -3.9, 1.1], [58, -4.1, 1.2], [60, -4.2, 1.1]],
  [[1.3, 5.0, 6.9], [2.5, 4.7, 7.2], [4.0, 5.0, 6.7]],
];
const fLoops: Pt[][] = [
  [[21.5, -1.1], [23.2, -3.1], [26.7, -4.5], [31.3, -5.6], [36.5, -6.2], [42.8, -6.4], [47.4, -6.3], [49.2, -5.6], [49.7, -3.4], [49.7, 0.3], [48.6, 2.5], [46.9, 4.2], [44, 5.3], [39.4, 5.9], [33.6, 5.9], [29, 5.3], [25.5, 3.9], [22.7, 2.2]],
  [[23.8, -1.1], [25, -2.8], [27.8, -4.2], [32.4, -5], [39.4, -5.3], [44.5, -5], [46.9, -3.9], [47.7, -1.1], [46.9, 1.7], [45.1, 3.6], [41.7, 4.8], [35.9, 5], [31.3, 4.8], [27.8, 3.6], [25, 2.0]],
  [[25.8, -1.1], [27.2, -3.1], [30.1, -4.1], [35.9, -4.5], [41.7, -4.1], [45.1, -3.1], [46, -0.8], [45.7, 1.7], [44, 3.4], [40.5, 4.2], [35.9, 4.5], [31.3, 4.2], [27.8, 3.1], [26.1, 1.4]],
  [[27.8, -0.3], [29, -2.5], [32.4, -3.5], [37, -3.6], [41.7, -3.2], [44, -2], [44.5, 0.3], [43.4, 2.2], [40.5, 3.4], [35.9, 3.6], [31.9, 3.1], [29, 2]],
  [[29.5, -0.3], [30.7, -2.2], [33.6, -2.9], [38.2, -3.1], [41.7, -2.4], [43.1, -0.6], [42.5, 1.7], [39.9, 2.8], [35.9, 3.1], [32.4, 2.4], [30.1, 1.4]],
  [[31, 0], [32.1, -2], [35.3, -2.4], [39.4, -2.2], [41.4, -1.1], [41.7, 0.8], [39.6, 2.2], [35.9, 2.5], [32.7, 1.7]],
  [[32.4, 0], [33.6, -1.7], [36.5, -1.8], [39.9, -1.4], [40.5, 0.6], [38.8, 1.7], [35.9, 2], [33.6, 1.1]],
  [[34.2, 0], [35.6, -1.1], [38.8, -1.1], [39.6, 0.6], [38.2, 1.4], [35.6, 1.3]],
  [[35.9, 0], [37.3, -0.7], [38.8, -0.3], [38.8, 0.7], [37.3, 1.1]],
  [[1, -6.2], [2.4, -7.7], [4.7, -7], [6.2, -4.8], [5.6, -2.8], [3.6, -2], [1.6, -2.8], [0.7, -4.5]],
  [[2.1, -5.3], [2.7, -7], [3.6, -5.6], [3.3, -3.9], [2.4, -3.9]],
];
const fLines: Pt[][] = [
  [[0, -7.6], [3, -8.5], [6.5, -7.6], [9.3, -5.9], [10.2, -3.9], [8.8, -2.2], [5.3, -1.4], [2.4, -2], [0, -3.4]],
  [[51.2, -10], [51.8, -8.9], [55.5, -8.5], [60, -8.9]],
  [[56.7, -10], [58.4, -9.5], [60, -9.8]],
  [[52, 10], [52.6, 7.6], [55.5, 6.2], [58.8, 5.3], [60, 5.2]],
  [[53.5, 10], [54.1, 8.1], [56.7, 7], [60, 6.4]],
  [[54.7, 10], [55.2, 8.4], [57.8, 7.6], [60, 7.8]],
  [[55.8, 10], [57.8, 8.4], [60, 9.5]],
];
const fDotLoops: Pt[][] = [
  [[0.7, 5.3], [2.4, 4.2], [4.7, 5], [5.6, 7], [4.4, 8.7], [2.1, 8.7], [0.7, 7.3]],
];
const fDotLines: Pt[][] = [
  [[20.9, -10], [23.2, -8.1], [27.8, -7.3], [34.7, -7], [40.5, -7.1], [45.1, -7.8], [47.4, -9.2], [47.7, -10]],
  [[24.9, -10], [27.2, -8.4], [32.4, -7.7], [38.2, -7.7], [42.8, -8.1], [45.1, -9.2], [45.4, -10]],
  [[29, -10], [30.7, -9], [35.3, -8.4], [40.5, -8.7], [43.4, -9.4], [43.7, -10]],
  [[24.4, 10], [26.1, 8.1], [30.1, 6.4], [35.9, 6.2], [41.7, 6.4], [46.9, 7.6], [50.9, 9.2], [51.5, 10]],
  [[27.2, 10], [29, 8.4], [33.6, 7.6], [39.4, 7.6], [44.5, 8.1], [48.6, 9.5], [48.9, 10]],
  [[30.1, 10], [31.9, 9], [35.9, 8.5], [40.5, 8.7], [44, 10]],
  [[0, 0.6], [4.7, 0.8], [10.5, 1.7], [15.1, 3.1], [18.6, 5.3], [20.9, 7.6], [21.5, 10]],
  [[0, 8.1], [7.6, 8.1], [11.7, 9.2], [13.4, 10]],
  [[60, -6.2], [56.7, -6], [53.2, -5], [51.2, -2.5], [51.5, 0.3], [52.6, 2.5], [56.1, 3.4], [60, 3.1]],
  [[60, -4.2], [57.2, -3.9], [54.9, -2.5], [55.2, 0.3], [56.7, 1.7], [60, 1.7]],
  [[60, -2.5], [59, -2.8], [58.1, -1.1], [58.7, 0.8], [60, 0.6]],
];
const fLabels: Lbl[] = [
  [6.5, -2.3, '0.1', -45], [10.5, 1.4, '−0.1', 20], [24.4, -2.0, '0.2', -45], [26.5, -3.2, '0.3', -60], [27, -1.2, '0.4', -70],
  [35, 3.4, '0.6', 15], [37.8, 4.3, '0.5', 15], [39.9, -5.5, '0.1', -15], [39, -7.6, '−0.4', -20], [36, -7.2, '−0.3', -20],
  [44.3, -7.1, '0.1', -30], [51.5, -3.2, '−0.1', -80], [34.5, 6.4, '−0.3', 0], [38.6, 7.5, '0.4', 0],
];

// ---------- (g) ----------
const gDark: Band[][] = [
  [[24.9, -0.6, 0.8], [26.1, -2.0, 2.0], [27.8, -3.4, 3.4], [31.3, -4.3, 4.1], [36.5, -4.5, 4.8], [38.2, -4.5, 4.9], [40.5, -4.2, 4.3], [43.4, -3.1, 3.1], [45.1, -1.4, 1.4], [45.4, 0, 0.8]],
  [[6.8, -10, -8.5], [7.6, -10, -7.8], [9.0, -10, -8.7], [9.8, -10, -9.6]],
  [[1.0, 1.5, 5.5], [1.8, 1.1, 6.1], [2.8, 1.6, 5.9], [3.6, 3.0, 5.0]],
];
const gLight: Band[][] = [
  [[25.5, -10, -9.6], [27.8, -10, -8.6], [33.6, -10, -7.5], [38.2, -10, -8.1], [40.5, -10, -9.2], [41.5, -10, -9.9]],
  [[1.5, -9.8, -8.3], [2.4, -10, -8.0], [3.2, -9.8, -8.3]],
  [[6.0, -0.6, 2.8], [7.5, -1.1, 3.9], [8.8, -0.6, 3.6], [9.6, 0.5, 2.0]],
  [[25.5, 9.9, 10], [26.7, 8.1, 10], [31.3, 7.6, 10], [38.2, 7.7, 10], [41.7, 8.7, 10], [42.8, 9.9, 10]],
];
const gLoops: Pt[][] = [
  [[19.4, -5.2], [22.6, -6.4], [24.9, -5.7], [30.1, -5.9], [36.5, -6.2], [42.2, -5.7], [46.3, -4.5], [48, -2], [48.3, 1.4], [48.6, 3.4], [48, 4.9], [44, 5], [38.2, 5.2], [33, 4.9], [28.4, 4.2], [25, 3.1], [23.2, 1.7], [17.4, 1], [17.1, -1.4]],
  [[23.8, -1.1], [25, -2.8], [27.8, -4.2], [32.4, -4.9], [38.2, -5.2], [42.8, -4.8], [45.7, -3.4], [46.9, -1.1], [46.9, 1.7], [45.1, 3.6], [41.7, 4.8], [37, 5.2], [32.4, 4.6], [27.8, 3.6], [25, 2.2], [23.8, 0.8]],
  [[25, -1.1], [26.4, -2.8], [29.5, -4.1], [34.7, -4.6], [40.5, -4.5], [44, -3.6], [45.7, -1.7], [45.7, 1.4], [44, 3.4], [40.5, 4.5], [36.5, 4.9], [31.9, 4.3], [27.8, 3.4], [25.5, 2]],
  [[26.7, 0], [27.8, -2.2], [31.3, -3.6], [36.5, -4.1], [41.1, -3.6], [43.7, -2.2], [44.5, 0.3], [43.4, 2.5], [40.5, 3.9], [36.5, 4.3], [31.9, 3.8], [28.4, 2.8], [26.9, 1.4]],
  [[27.8, 0], [29, -2], [32.1, -3.1], [36.5, -3.5], [40.5, -3.1], [42.8, -1.7], [43.4, 0.3], [42.2, 2.2], [39.4, 3.4], [35.9, 3.6], [31.9, 3.1], [29.3, 2]],
  [[29.3, 0], [30.4, -1.7], [33, -2.5], [36.8, -2.8], [39.9, -2.4], [41.9, -1.1], [42.2, 0.8], [40.8, 2.2], [38.2, 2.9], [34.7, 2.9], [31.9, 2.2], [30.1, 1.1]],
  [[30.7, 0], [31.9, -1.4], [34.2, -2], [37.6, -2.1], [40.2, -1.4], [40.8, 0.6], [39.4, 2], [36.5, 2.4], [33.6, 2], [31.6, 1.1]],
  [[32.7, 0], [34.7, -1.1], [38.2, -1.4], [39.4, -0.3], [39.1, 1.4], [37, 1.8], [34.4, 1.1]],
  [[33, 0], [35.9, -0.8], [37.6, -1.1], [37.9, 0.3], [37.6, 1.1], [35.3, 0.6]],
  [[0.7, 3.1], [1.8, 0.8], [3.3, 1.4], [4.2, 4.2], [3.9, 6.4], [2.4, 7], [1, 5.6]],
];
const gLines: Pt[][] = [
  [[48, 4.9], [49.7, 6.4], [50.9, 8.1], [52, 10]],
  [[48.6, 4.9], [52.6, 4.3]],
  [[5.6, -10], [6.2, -7.8], [8.2, -6.4], [12.2, -5.3], [14.8, -5.6], [14.5, -7.3], [12.5, -9], [12.5, -10]],
  [[6.2, -10], [7, -7.8], [8.8, -7], [11.1, -7.3], [11.4, -8.7], [10.5, -10]],
  [[0, 0.6], [1.6, -1.4], [3.6, -1.1], [5.3, 1.4], [6.2, 4.2], [5.9, 7.3], [7, 9.2], [7.6, 10]],
  [[0, 6.4], [1.3, 8.7], [3, 10]],
  [[56.7, -10], [58.4, -9.5], [60, -9.8]],
  [[58.4, 6.4], [60, 5.9]],
];
const gDotLoops: Pt[][] = [
  [[4.7, -1.1], [5.9, -3.6], [8.8, -3.9], [11.1, -2.2], [12.8, 0.8], [12.8, 3.9], [11.1, 5.3], [7.6, 5.6], [5.3, 4.2], [4.4, 1.4]],
  [[6.5, 0.3], [7.3, -1.4], [8.8, -1.1], [9.6, 1.4], [9.3, 3.4], [8.2, 3.9], [6.8, 2.8]],
];
const gDotLines: Pt[][] = [
  [[22, -10], [24.4, -8.1], [29, -7.3], [34.7, -6.7], [40.5, -7.3], [44, -8.4], [45.1, -10]],
  [[25.5, -10], [27.8, -8.7], [32.4, -7.8], [37, -7.7], [41.1, -8.3], [43.4, -10]],
  [[29, -10], [31.3, -9.2], [35.9, -8.7], [39.4, -9.2], [41.1, -10]],
  [[22, 10], [23.2, 7.6], [27.8, 6.4], [33.6, 6.1], [39.4, 6.2], [44.5, 7], [46.9, 8.7], [47.4, 10]],
  [[24.4, 10], [26.1, 8.4], [31.3, 7.3], [37, 7.1], [42.8, 7.8], [45.1, 10]],
  [[27.8, 10], [29, 9], [33.6, 8.3], [39.4, 8.4], [42.2, 10]],
  [[0, -4.8], [2.4, -4.5], [3.6, -6.2], [3, -10]],
  [[60, -5.3], [56.7, -5.9], [53.2, -6], [51.5, -5.3], [51.2, -3.1], [52.6, -0.6], [55.5, 1.1], [58.4, 1.7], [60, 0.8]],
  [[9, 6.2], [12.5, 6.9], [15.5, 8.1], [18, 10]],
];
const gLabels: Lbl[] = [
  [16.9, -3.4, '0.1', -50], [23.6, -3.9, '0.2', -20], [26.5, -3.4, '0.3', -45], [14, 1.4, '−0.1', 70], [30.3, 3.5, '0.4', -30],
  [34.3, 4.0, '0.5', 0], [55, 5.3, '0.1', 30], [29.5, 7.1, '−0.2', -20], [33.8, 7.3, '0.3', 0], [35.9, -7.2, '−0.3', -20],
];

// ---------- (h) ----------
const hDark: Band[][] = [
  [[16.8, -3.0, -0.8], [17.6, -4.7, 0.3], [20.9, -6.0, 0.5], [23.8, -6.2, 0.6], [29, -4.8, 1.4], [31.3, -4.6, 2.8], [34.7, -4.6, 4.2], [38.8, -4.0, 4.4], [43.4, -2.8, 3.0], [45.1, -1.1, 1.4], [45.7, 0, 0.8]],
  [[51.5, -10, -9.2], [53.5, -10, -8.7], [57, -10, -8.3], [60, -10, -8.1]],
  [[56.7, 9.6, 10], [58, 9.2, 10], [59, 9.6, 10]],
];
const hLight: Band[][] = [
  [[29.5, -10, -9.5], [31.3, -10, -8.2], [36.5, -10, -7.8], [41.7, -10, -8.4], [44.5, -10, -9.6]],
  [[50.9, -1.1, 1.4], [54.4, -1.4, 3.0], [57, -2.0, 4.2], [59, -2.2, 4.2], [60, -2.2, 4.2]],
  [[16.3, 9.8, 10], [17.4, 8.8, 10], [20.9, 6.8, 10], [23.2, 5.3, 10], [29, 6.4, 10], [34.7, 7.0, 10], [39.4, 8.7, 10], [43.4, 9.2, 10], [44.5, 9.9, 10]],
];
const hLoops: Pt[][] = [
  [[15.4, 0.8], [15.1, -2], [16.6, -5.2], [20.3, -7.6], [23.8, -8.1], [26.7, -7.4], [29.5, -6.1], [33.6, -5.5], [39.4, -5.0], [44.5, -4.3], [46.6, -2.9], [46.9, -0.8], [46.3, 1.7], [45.1, 3.6], [42.8, 4.8], [38.8, 5.5], [34.2, 5.3], [31.3, 4.5], [27.8, 3.1], [23.2, 2.5], [19.2, 2.1], [16.3, 2.0]],
  [[16.4, -0.3], [16.4, -3.2], [18, -5.4], [20.9, -6.7], [23.5, -7.1], [26, -6.7], [29, -5.4], [33.6, -4.9], [39.4, -4.5], [44, -3.6], [45.4, -2], [45.7, 0.8], [44.5, 3.1], [41.7, 4.3], [37, 4.8], [33.6, 4.5], [30.1, 3.1], [26.7, 2], [22, 1.4], [17.4, 1.1]],
  [[20.3, -2.5], [20.9, -4.8], [23.2, -5.2], [29, -4.5], [35.9, -4.3], [40.5, -3.6], [43.4, -2.2], [44.5, 0], [44, 2.2], [41.7, 3.6], [38.2, 4.2], [34.2, 3.9], [31.3, 2.5], [29, 0.6], [26.1, -0.7], [23.2, -1.1], [20.9, -1.7]],
  [[28.4, -2], [30.1, -3.4], [34.7, -3.8], [39.4, -3.5], [42.2, -2.2], [43.4, 0], [42.8, 2], [40.5, 3.4], [36.5, 3.8], [33.6, 3.4], [31.3, 2], [29, 0.3]],
  [[29.5, -1.1], [31.3, -2.8], [34.7, -3.2], [38.8, -2.9], [41.4, -1.7], [42.2, 0.3], [41.4, 2], [38.8, 2.9], [35.9, 3.1], [33.3, 2.4], [31.3, 1.1]],
  [[31, -0.8], [32.1, -2.2], [35.3, -2.7], [38.8, -2.2], [40.8, -1.1], [41.1, 0.8], [39.4, 2.2], [36.2, 2.5], [33.6, 1.7], [31.9, 0.6]],
  [[32.4, -0.3], [33.6, -1.7], [36.5, -2], [39.4, -1.4], [39.9, 0.6], [38.5, 1.7], [35.9, 2], [33.6, 1.1]],
  [[33.6, 0], [35.9, -1.3], [38.2, -1.3], [38.8, 0.6], [37.6, 1.4], [35.3, 1.1]],
  [[35, 0], [37.6, -1.1], [38.2, 0.3], [37, 1]],
];
const hLines: Pt[][] = [
  [[0, 1.4], [2.4, 0.8], [5.3, 0], [8.2, -0.3], [11.7, 0.3], [14, 1.4], [15.7, 2.8], [16.3, 3.4]],
  [[1.3, 10], [1.3, 7], [3, 3.9], [4.7, 4.8], [7, 6.7], [8.2, 8.7], [7.6, 10]],
  [[49.7, -10], [49.2, -8.7], [50.9, -7.3], [54.4, -6.7], [60, -6.7]],
  [[50.9, -10], [50.6, -8.9], [52.6, -7.8], [56.7, -7.5], [60, -7.5]],
  [[50.9, 10], [53.2, 8.4], [56.7, 7.8], [60, 7.8]],
  [[52.6, 10], [54.4, 9], [57.2, 8.7], [60, 9]],
  [[54.4, 10], [56.1, 9.4], [58.4, 9.4], [60, 9.7]],
];
const hDotLoops: Pt[][] = [
  [[56.1, -0.3], [57.2, -1.1], [58.4, -0.3], [58.4, 1.7], [57, 2.2], [55.8, 1.1]],
];
const hDotLines: Pt[][] = [
  [[4.7, -10], [7, -7.5], [10.5, -6.7], [14, -7], [16.3, -8.1], [18, -10]],
  [[0, -3.9], [2.4, -3.1], [5.9, -2.8], [9.3, -3.4], [12.2, -4.2], [14.5, -5.6], [16.3, -7.3], [17.4, -8.7], [18.6, -10]],
  [[0, -2], [3.6, -1.4], [7.6, -1.1], [11.7, -1.4], [13.6, -2.8]],
  [[0, -8.3], [3.5, -8.9], [6, -10]],
  [[26, -10], [28, -8.8], [31, -7.9], [35.9, -7.4], [42.8, -7.3], [46.3, -8.1], [48, -10]],
  [[28.5, -10], [30, -9.1], [33.6, -8.5], [39.4, -8.4], [44.5, -9], [45.1, -10]],
  [[31.3, -10], [33, -9.3], [37, -9.1], [41.7, -9.3], [42.8, -10]],
  [[14, 10], [15.7, 7], [19.2, 5.3], [23.8, 3.6], [27.8, 3.6], [31.3, 5.3], [34.7, 6.4], [39.4, 7], [44, 7.6], [48, 8.7], [49.2, 10]],
  [[17.4, 10], [18.6, 7.8], [22, 5.6], [25.5, 4.8], [29.5, 5.3], [33.6, 7], [38.2, 7.8], [42.8, 8.4], [46.3, 10]],
  [[20.9, 10], [22, 7.8], [25, 6.4], [29, 6.7], [32.4, 8.1], [37, 9], [41.7, 9.5], [42.8, 10]],
  [[60, -4.6], [56.1, -4.6], [52, -3.9], [49.7, -2.2], [49.2, 0.3], [49.7, 2.8], [52, 4.8], [56.1, 5.9], [60, 6.2]],
  [[60, -3.1], [56.1, -2.8], [53.2, -2], [52, 0], [52.6, 2.2], [55.5, 3.6], [60, 3.9]],
];
const hLabels: Lbl[] = [
  [13.7, -5, '−0.1', -80], [17.6, -5.3, '0.2', -60], [16.8, -3.6, '0.3', -60], [26.7, -0.5, '0.4', 20], [33, 3.9, '0.5', 0],
  [36.2, -7.1, '−0.2', 0], [42.6, -6.5, '−0.1', 0], [12.8, 5.3, '0.1', -80], [23.9, 3.7, '−0.1', 45], [24.4, 4.6, '−0.2', 45],
  [24.9, 5.5, '−0.3', 45], [26.1, 7.4, '−0.4', -20], [49.2, -1.5, '−0.2', -80],
];

const panels = [
  { title: titles[0], dark: aDark, light: aLight, loops: aLoops, lines: aLines, dotLoops: aDotLoops, dotLines: aDotLines, labels: aLabels },
  { title: titles[1], dark: bDark, light: bLight, loops: bLoops, lines: bLines, dotLoops: bDotLoops, dotLines: bDotLines, labels: bLabels },
  { title: titles[2], dark: cDark, light: cLight, loops: cLoops, lines: cLines, dotLoops: cDotLoops, dotLines: cDotLines, labels: cLabels },
  { title: titles[3], dark: dDark, light: dLight, loops: dLoops, lines: dLines, dotLoops: dDotLoops, dotLines: dDotLines, labels: dLabels },
  { title: titles[4], dark: eDark, light: eLight, loops: eLoops, lines: eLines, dotLoops: eDotLoops, dotLines: eDotLines, labels: eLabels },
  { title: titles[5], dark: fDark, light: fLight, loops: fLoops, lines: fLines, dotLoops: fDotLoops, dotLines: fDotLines, labels: fLabels },
  { title: titles[6], dark: gDark, light: gLight, loops: gLoops, lines: gLines, dotLoops: gDotLoops, dotLines: gDotLines, labels: gLabels },
  { title: titles[7], dark: hDark, light: hLight, loops: hLoops, lines: hLines, dotLoops: hDotLoops, dotLines: hDotLines, labels: hLabels },
];

const INK = '#1c1c1c';
const TXT = '#8e8e8e';
const DARK = '#6b6b6b';
const LIGHT = '#cecece';
const FONT = '"DejaVu Sans", Verdana, sans-serif';
const colLeft = [91, 633];
const rowTop = [34, 407, 780, 1153];
const PW = 347;
const PH = 238;

const toPts = (a: Pt[]) => a.map(([x, y]) => ({ x, y }));
const toBand = (a: Band[]) => a.map(([x, lo, hi]) => ({ x, y: [lo, hi] }));
const minus = (v: number) => (v < 0 ? '−' + Math.abs(v) : String(v));

// IDL puts the end labels a little inside the frame
const lagNudge: Record<string, number> = { '-10': 7, '-5': 3, '0': 1, '5': 2, '10': -5 };

function XTick(props: any) {
  const { x, y, payload } = props;
  return (
    <text x={x} y={y + 23} textAnchor="middle" dominantBaseline="central" fill={TXT} fontSize={17} fontFamily={FONT}>
      {payload.value}
    </text>
  );
}

function YTick(props: any) {
  const { x, y, payload } = props;
  return (
    <text x={x - 8} y={y + (lagNudge[String(payload.value)] ?? 0)} textAnchor="end" dominantBaseline="central" fill={TXT} fontSize={17} fontFamily={FONT}>
      {minus(payload.value)}
    </text>
  );
}

function Panel({ p, col, row }: { p: (typeof panels)[number]; col: number; row: number }) {
  const PL = colLeft[col];
  const PT = rowTop[row];
  const right = col === 0 ? 22 : 10;
  const k = `${col}${row}`;
  const frame = { stroke: INK, strokeWidth: 1.3 };
  return (
    <>
      <div style={{ position: 'absolute', left: PL - 91, top: PT - 34 }}>
        <ComposedChart width={91 + PW + right} height={34 + PH + 58} margin={{ top: 34, right, bottom: 0, left: 31 }}>
          {p.light.map((b, i) => (
            <Area key={`${k}l${i}`} data={toBand(b)} dataKey="y" type="monotone" stroke="none" fill={LIGHT} fillOpacity={1} dot={false} activeDot={false} isAnimationActive={false} />
          ))}
          {p.dark.map((b, i) => (
            <Area key={`${k}d${i}`} data={toBand(b)} dataKey="y" type="monotone" stroke="none" fill={DARK} fillOpacity={1} dot={false} activeDot={false} isAnimationActive={false} />
          ))}
          <ReferenceLine y={0} stroke={INK} strokeWidth={1.2} />
          {p.dotLoops.map((c, i) => (
            <Line key={`${k}q${i}`} data={toPts(c)} dataKey="y" type="linearClosed" stroke={INK} strokeWidth={1.7} strokeDasharray="0.01 5" strokeLinecap="round" dot={false} activeDot={false} isAnimationActive={false} />
          ))}
          {p.dotLines.map((c, i) => (
            <Line key={`${k}r${i}`} data={toPts(c)} dataKey="y" type="linear" stroke={INK} strokeWidth={1.7} strokeDasharray="0.01 5" strokeLinecap="round" dot={false} activeDot={false} isAnimationActive={false} />
          ))}
          {p.loops.map((c, i) => (
            <Line key={`${k}s${i}`} data={toPts(c)} dataKey="y" type="linearClosed" stroke={INK} strokeWidth={1.2} dot={false} activeDot={false} isAnimationActive={false} />
          ))}
          {p.lines.map((c, i) => (
            <Line key={`${k}t${i}`} data={toPts(c)} dataKey="y" type="linear" stroke={INK} strokeWidth={1.2} dot={false} activeDot={false} isAnimationActive={false} />
          ))}
          {p.labels.map((l, i) => (
            <ReferenceDot
              key={`${k}n${i}`}
              x={l[0]}
              y={l[1]}
              r={0}
              fill="none"
              stroke="none"
              label={{ value: l[2], position: 'center', angle: l[3], fill: TXT, fontSize: 14, fontFamily: FONT }}
            />
          ))}
          <XAxis dataKey="x" type="number" domain={[0, 60]} ticks={latTicks} interval={0} allowDataOverflow height={58} tickSize={0} tickMargin={0} tickLine={false} axisLine={frame} tick={XTick} />
          <YAxis type="number" domain={[-10, 10]} reversed ticks={lagTicks} interval={0} allowDataOverflow width={60} tickSize={0} tickMargin={0} tickLine={false} axisLine={frame} tick={YTick} />
          <XAxis xAxisId="top" orientation="top" type="number" domain={[0, 60]} allowDataOverflow height={0} tick={false} tickLine={false} axisLine={frame} />
          <YAxis yAxisId="right" orientation="right" type="number" domain={[-10, 10]} allowDataOverflow width={0} tick={false} tickLine={false} axisLine={frame} />
        </ComposedChart>
      </div>
      <div style={{ position: 'absolute', left: PL, top: PT - 14, transform: 'translateY(-50%)', fontSize: 16, letterSpacing: 2.35, color: TXT, whiteSpace: 'nowrap', fontFamily: FONT }}>
        {p.title}
      </div>
      <div style={{ position: 'absolute', left: PL + PW / 2, top: PT + PH + 48, transform: 'translate(-50%, -50%)', fontSize: 17, letterSpacing: 2.5, color: TXT, whiteSpace: 'nowrap', fontFamily: FONT }}>
        Latitude (deg)
      </div>
      <div style={{ position: 'absolute', left: PL - 69, top: PT + PH / 2, transform: 'translate(-50%, -50%) rotate(-90deg)', fontSize: 17, letterSpacing: 2.5, color: TXT, whiteSpace: 'nowrap', fontFamily: FONT }}>
        Lag (days)
      </div>
    </>
  );
}

export default function App() {
  return (
    <div style={{ position: 'absolute', left: 0, top: 0, width: 995, height: 1452, background: '#ffffff', overflow: 'hidden' }}>
      {panels.map((p, i) => (
        <Panel key={i} p={p} col={i % 2} row={Math.floor(i / 2)} />
      ))}
    </div>
  );
}
